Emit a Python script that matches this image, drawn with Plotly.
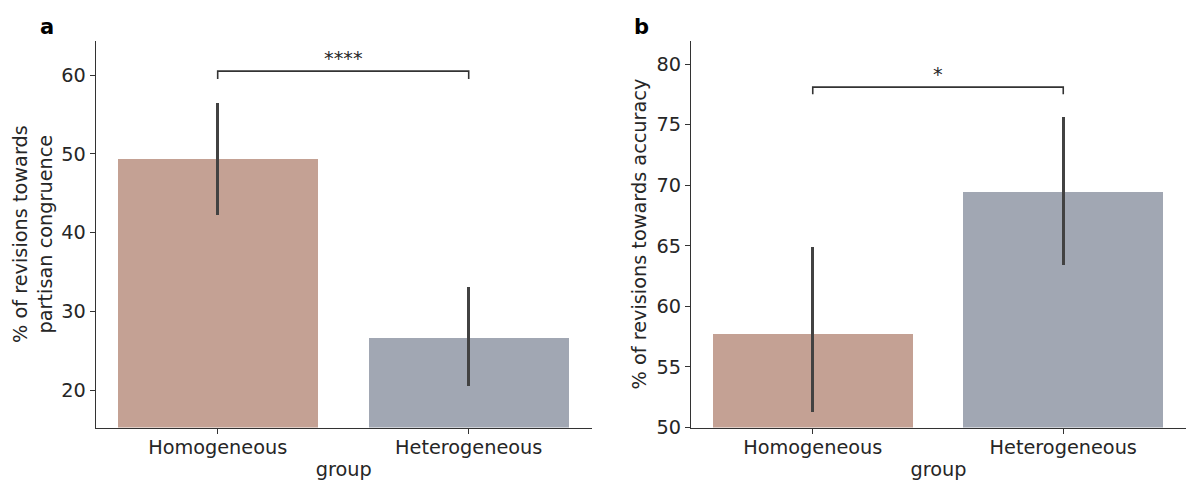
import plotly.graph_objects as go

# Group labels shared by both panels
groups = ["Homogeneous", "Heterogeneous"]

# Panel a: revisions towards partisan congruence (%)
congruence_mean = [49.4, 26.7]
congruence_low = [42.2, 20.5]
congruence_high = [56.4, 33.1]

# Panel b: revisions towards accuracy (%)
accuracy_mean = [57.75, 69.5]
accuracy_low = [51.3, 63.4]
accuracy_high = [64.9, 75.6]

# Significance brackets: (bar top, tip drop, label)
bracket_a = (60.5, 1.0, "****")
bracket_b = (78.1, 0.6, "*")

bar_colors = ["#c4a194", "#a1a7b3"]
ink = "#262626"
font_family = "DejaVu Sans"
fs = 19.3
W, H = 1186, 481

fig = go.Figure()


def add_panel(means, lows, highs, xref, yref):
    xs = list(range(len(groups)))
    fig.add_trace(go.Bar(
        x=xs, y=means, width=0.8,
        marker=dict(color=bar_colors, line=dict(width=0)),
        error_y=dict(
            type="data", symmetric=False,
            array=[h - m for h, m in zip(highs, means)],
            arrayminus=[m - l for m, l in zip(means, lows)],
            color="#424242", thickness=3, width=0,
        ),
        xaxis=xref, yaxis=yref, showlegend=False, hoverinfo="skip",
    ))


def add_bracket(bracket, xref, yref):
    top, drop, label = bracket
    fig.add_trace(go.Scatter(
        x=[0, 0, 1, 1], y=[top - drop, top, top, top - drop],
        mode="lines", line=dict(color="#333333", width=1.6),
        xaxis=xref, yaxis=yref, showlegend=False, hoverinfo="skip",
    ))
    fig.add_annotation(
        x=0.5, y=top, xref=xref, yref=yref, text=label,
        showarrow=False, yanchor="bottom", yshift=-1,
        font=dict(family=font_family, size=fs, color=ink),
    )


add_panel(congruence_mean, congruence_low, congruence_high, "x", "y")
add_bracket(bracket_a, "x", "y")
add_panel(accuracy_mean, accuracy_low, accuracy_high, "x2", "y2")
add_bracket(bracket_b, "x2", "y2")

y_dom = [1 - 427.5 / H, 1 - 40.7 / H]

axis_common = dict(
    showgrid=False, zeroline=False, showline=True, automargin=False,
    linecolor="#333333", linewidth=1.3,
    ticks="outside", ticklen=5, tickwidth=1.2, tickcolor="#333333",
    tickfont=dict(family=font_family, size=fs, color=ink),
)

x_common = dict(
    axis_common,
    tickvals=[0, 1], ticktext=groups, range=[-0.486, 1.49],
    ticklabelstandoff=-3,
    title=dict(text="group", font=dict(family=font_family, size=fs, color=ink), standoff=6),
)

fig.update_layout(
    width=W, height=H,
    margin=dict(l=0, r=0, t=0, b=0),
    paper_bgcolor="white", plot_bgcolor="white",
    bargap=0,
    xaxis=dict(x_common, domain=[95.7 / W, 591.7 / W], anchor="y"),
    yaxis=dict(
        axis_common, domain=y_dom, anchor="x",
        range=[15.27, 64.36], tickvals=[20, 30, 40, 50, 60],
        title=dict(text="% of revisions towards<br>partisan congruence",
                   font=dict(family=font_family, size=fs, color=ink), standoff=3),
    ),
    xaxis2=dict(x_common, domain=[691 / W, 1.0], anchor="y2"),
    yaxis2=dict(
        axis_common, domain=y_dom, anchor="x2",
        range=[50, 81.93], tickvals=[50, 55, 60, 65, 70, 75, 80],
        title=dict(text="% of revisions towards accuracy",
                   font=dict(family=font_family, size=fs, color=ink), standoff=4),
    ),
)

# Panel letters
for letter, px in (("a", 38), ("b", 632)):
    fig.add_annotation(
        x=px / W, y=1 - 27 / H, xref="paper", yref="paper",
        text=f"<b>{letter}</b>", showarrow=False,
        xanchor="left", yanchor="middle",
        font=dict(family=font_family, size=21, color="black"),
    )

fig.write_html("out.html")
